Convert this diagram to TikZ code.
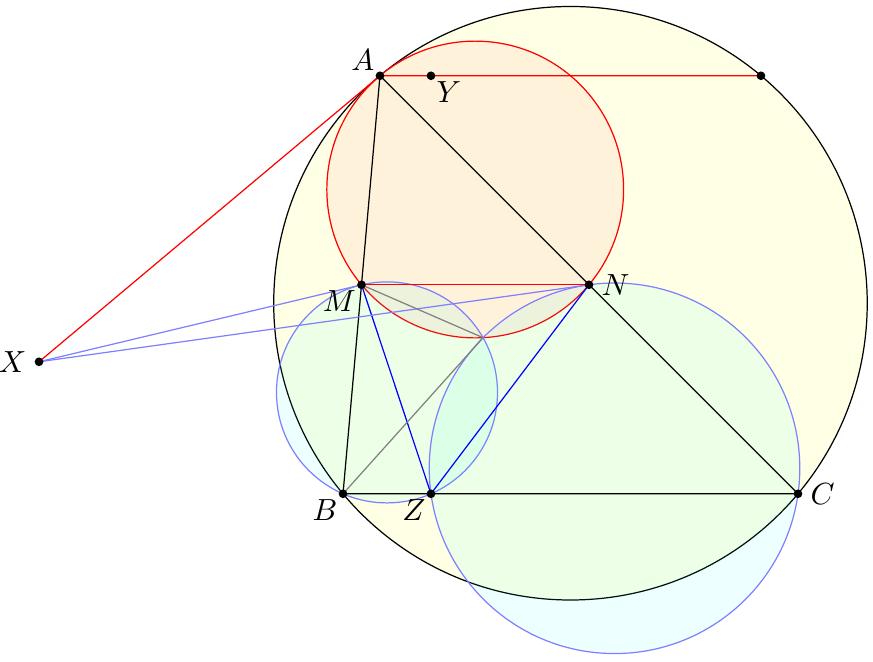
\documentclass[tikz,border=0pt]{standalone}
\usetikzlibrary{calc}
\definecolor{circfill}{rgb}{1,1,0.9}
\definecolor{discfill}{rgb}{0,1,1}
\definecolor{redfill}{rgb}{1,0.95,0.86}

\begin{document}
\begin{tikzpicture}[x=0.69cm, y=0.69cm,
                    dot/.style = {circle, fill, inner sep=0pt, minimum size=1mm},
                    aux/.style = {blue!50},
                    miquel/.style = {gray},
                    disc/.style = {fill=discfill, fill opacity=0.07}]
  \useasboundingbox (0,0) rectangle (14.55,11.03);
  % points
  \coordinate (A) at (6.333,9.767);
  \coordinate (B) at (5.717,2.8);
  \coordinate (C) at (13.3,2.8);
  \coordinate (M) at ($(A)!0.5!(B)$);
  \coordinate (N) at ($(A)!0.5!(C)$);
  \coordinate (Z) at (7.183,2.8);
  \coordinate (Y) at (7.183,9.767);
  \coordinate (D) at (12.683,9.767);
  \coordinate (X) at (0.65,5.0);
  \coordinate (P) at (8.051,5.402);
  % centres
  \coordinate (O) at (9.508,5.976);
  \coordinate (Q) at ($(A)!0.5!(O)$);
  \coordinate (O1) at (6.45,4.49);
  \coordinate (O2) at (10.242,3.225);

  \draw [fill=circfill] (O) circle (4.946);
  \draw [red, fill=redfill] (Q) circle (2.473);
  \draw [aux, disc] (O1) circle (1.842);
  \draw [aux, disc] (O2) circle (3.088);

  \draw (A) -- (B) -- (C) -- cycle;
  \draw [red] (X) -- (A) -- (D);
  \draw [red] (M) -- (N);
  \draw [blue] (M) -- (Z) -- (N);
  \draw [aux] (X) -- (M);
  \draw [aux] (X) -- (N);
  \draw [miquel] (M) -- (P) -- (B);

  \foreach \p/\pos/\d in {A/above left/-4, Y/below right/-4, M/below left/-4,
                          N/right/-1, B/below left/-4, Z/below left/-4,
                          C/right/-1, X/left/-1}
    \node [dot, label={[label distance=\d pt]\pos:$\p$}] (d\p) at (\p) {};
  \node [dot] (dD) at (D) {};
\end{tikzpicture}
\end{document}
